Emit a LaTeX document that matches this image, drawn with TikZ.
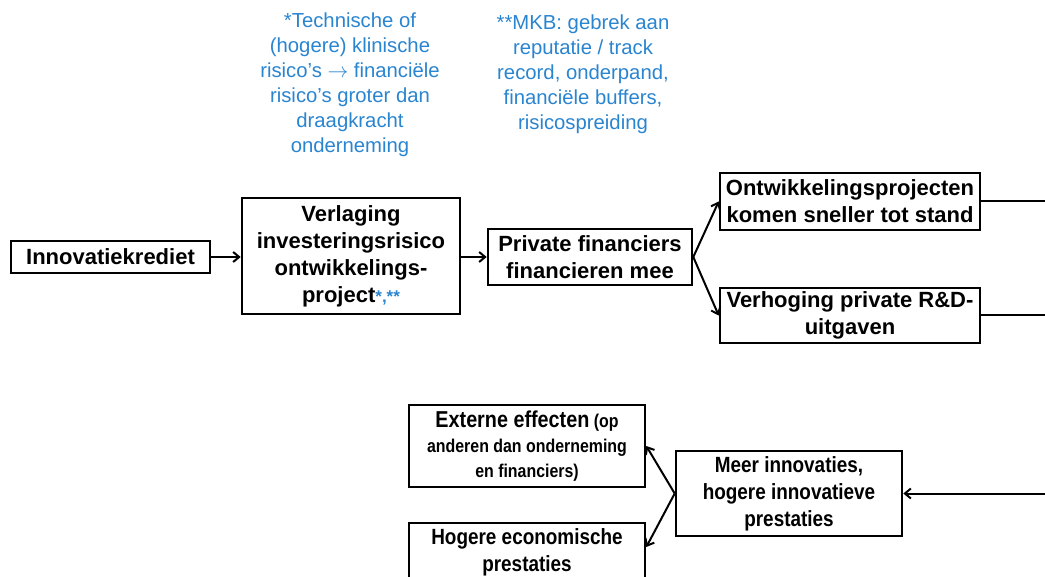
\documentclass[tikz,border=0pt]{standalone}
\usepackage{fontspec}
\setmainfont{Liberation Sans}
\newfontfamily\narrowsans[FakeStretch=0.86]{Liberation Sans}
\usetikzlibrary{arrows.meta}
\definecolor{noteblue}{HTML}{2A85D0}
\tikzset{
  box/.style={draw, line width=2.6pt, align=center, inner sep=0pt, fill=white,
    font=\fontsize{22}{27}\selectfont\bfseries},
  lowbox/.style={box, font=\narrowsans\fontsize{22}{27}\selectfont\bfseries},
  conn/.style={line width=2pt, -{Straight Barb[length=6pt,width=10pt]}},
  plainline/.style={line width=2pt},
  note/.style={align=center, text=noteblue, inner sep=0pt,
    font=\fontsize{20.3}{25}\selectfont},
}
\begin{document}
\begin{tikzpicture}[x=1pt,y=-1pt]
\useasboundingbox (0,0) rectangle (1045,577);
\clip (0,0) rectangle (1045,577);
\fill[white] (0,0) rectangle (1045,577);

% notes
\node[note] (n1) at (350,84.5) {*Technische of\\(hogere) klinische\\risico’s $\rightarrow$ financiële\\risico’s groter dan\\draagkracht\\onderneming};
\node[note] (n2) at (583,74.5) {**MKB: gebrek aan\\reputatie / track\\record, onderpand,\\financiële buffers,\\risicospreiding};

% top row
\node[box, minimum width=199, minimum height=32] (inno) at (110.5,257) {Innovatiekrediet};
\node[box, minimum width=218, minimum height=116] (verl) at (351,256) {Verlaging\\investeringsrisico\\ontwikkelings-\\project{\color{noteblue}\fontsize{17}{17}\selectfont*,**}};
\node[box, minimum width=204, minimum height=56] (priv) at (590,257) {Private financiers\\financieren mee};
\node[box, minimum width=260, minimum height=57] (ontw) at (850,201.5) {Ontwikkelingsprojecten\\komen sneller tot stand};
\node[box, minimum width=260, minimum height=55] (verh) at (850,315.5) {Verhoging private R\&D-\\uitgaven};

% bottom row
\node[lowbox, minimum width=236, minimum height=82, font=\narrowsans\fontsize{18.5}{25}\selectfont\bfseries] (ext) at (527,446)
  {{\fontsize{23}{25}\selectfont Externe effecten} (op\\anderen dan onderneming\\en financiers)};
\node[lowbox, minimum width=236, minimum height=58] (hog) at (527,552) {Hogere economische\\prestaties};
\node[lowbox, minimum width=226, minimum height=85] (meer) at (789,493.5) {Meer innovaties,\\hogere innovatieve\\prestaties};

% free ends at the right edge
\coordinate (r1) at (1045,201.5);
\coordinate (r2) at (1045,315.5);
\coordinate (r3) at (1045,493.5);

% connectors
\draw[conn] (inno.east) -- (inno.east -| verl.west);
\draw[conn] (priv.west -| verl.east) -- (priv.west);
\draw[conn] (priv.east) -- (ontw.west);
\draw[conn] (priv.east) -- (verh.west);
\draw[plainline] (ontw.east) -- (r1);
\draw[plainline] (verh.east) -- (r2);
\draw[conn] (r3) -- (meer.east);
\draw[conn] (meer.west) -- (ext.east);
\draw[conn] (meer.west) -- ([yshift=5pt]hog.east);
\end{tikzpicture}
\end{document}
